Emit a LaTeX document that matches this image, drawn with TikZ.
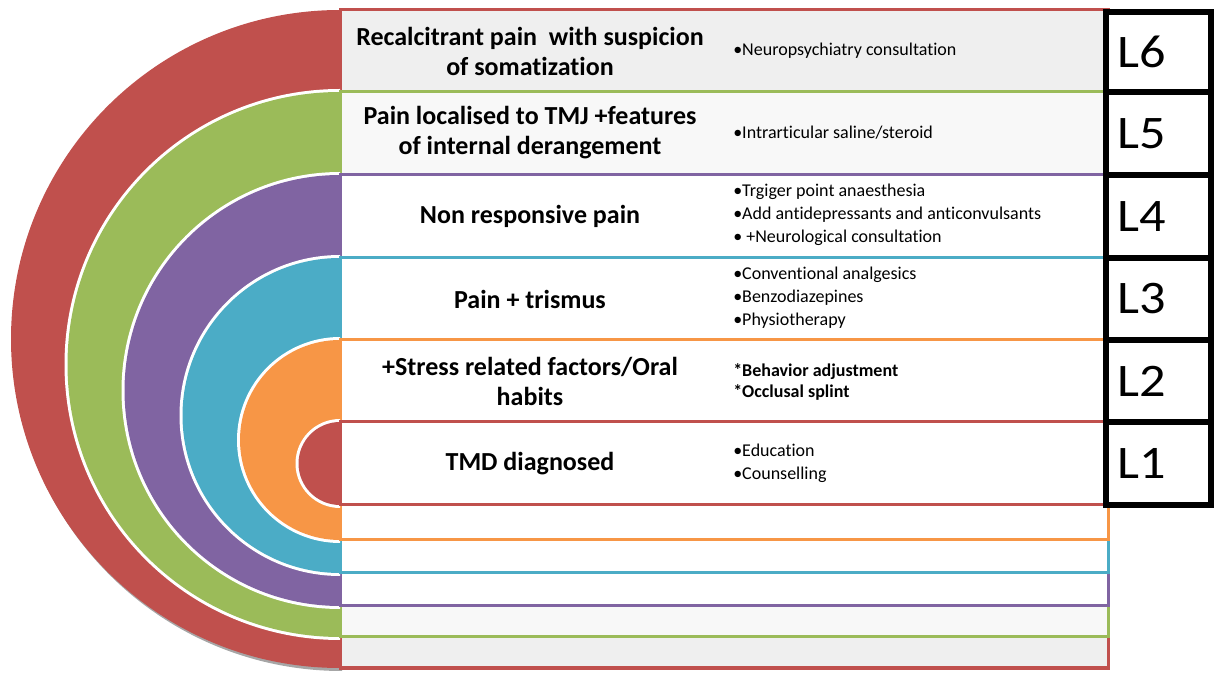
\documentclass[tikz,border=0pt]{standalone}
\usepackage{fontspec}
\setmainfont{Carlito}[Ligatures=NoCommon]
\newfontfamily\lvlfont{Carlito}[FakeStretch=1.12]
\definecolor{lred}{HTML}{C0504D}
\definecolor{lgreen}{HTML}{9BBB59}
\definecolor{lpurple}{HTML}{8064A2}
\definecolor{lblue}{HTML}{4BACC6}
\definecolor{lorange}{HTML}{F79646}
\definecolor{band6}{HTML}{EFEFEF}
\definecolor{band5}{HTML}{F8F8F8}
\tikzset{
  cond/.style={font=\bfseries\fontsize{19.5}{22.5}\selectfont, align=center},
  treat/.style={font=\fontsize{13.5}{17.25}\selectfont, align=left, anchor=west, inner sep=0pt},
  lvl/.style={font=\lvlfont\fontsize{35}{40}\selectfont, anchor=west, inner sep=0pt},
  lbox/.style={draw=black, line width=4.5pt, fill=white}
}

\begin{document}
\begin{tikzpicture}[x=0.75pt, y=-0.75pt]
  \useasboundingbox (0,0) rectangle (1215,673);
  % outer level with its shadow
  \fill[black!35] (342,671) arc[start angle=90, end angle=270, radius=329] -- cycle;
  \fill[lred] (340,668) arc[start angle=90, end angle=270, radius=329] -- cycle;
  \draw[lred, fill=band6, line width=2.25pt] (340,10) rectangle (1108,668);
  % inner levels
  \foreach \t/\b/\c/\f in {92/637/lgreen/band5, 175/606/lpurple/white, 258/573/lblue/white, 340/540/lorange/white, 422/505/lred/white}{
    \pgfmathsetmacro{\r}{(\b-\t)/2}
    \pgfmathsetmacro{\rr}{\r+3}
    \fill[white] (340,\b+3) arc[start angle=90, end angle=270, radius=\rr] -- cycle;
    \fill[\c] (340,\b) arc[start angle=90, end angle=270, radius=\r] -- cycle;
    \draw[\c, fill=\f, line width=2.25pt] (340,\t) rectangle (1108,\b);
  }
  % level boxes
  \foreach \t/\b/\n in {12/92/6, 92/175/5, 175/258/4, 258/340/3, 340/422/2, 422/505/1}{
    \draw[lbox] (1106,\t) rectangle (1211,\b);
    \node[lvl] (L\n) at (1117,{(\t+\b)/2}) {L\n};
  }
  % conditions and treatments
  \node[cond] (c6) at (530,51) {Recalcitrant pain\ \ with suspicion\\of somatization};
  \node[treat] (t6) at (733,51) {•Neuropsychiatry consultation};
  \node[cond] (c5) at (530,133) {Pain localised to TMJ +features\\of internal derangement};
  \node[treat] (t5) at (733,133) {•Intrarticular saline/steroid};
  \node[cond] (c4) at (530,216) {Non responsive pain};
  \node[treat] (t4) at (733,215) {•Trgiger point anaesthesia\\•Add antidepressants and anticonvulsants\\• +Neurological consultation};
  \node[cond] (c3) at (530,299) {Pain + trismus};
  \node[treat] (t3) at (733,298) {•Conventional analgesics\\•Benzodiazepines\\•Physiotherapy};
  \node[cond] (c2) at (530,381) {+Stress related factors/Oral\\habits};
  \node[treat, font=\bfseries\fontsize{13.5}{16}\selectfont] (t2) at (733,382) {*Behavior adjustment\\*Occlusal splint};
  \node[cond] (c1) at (530,464) {TMD diagnosed};
  \node[treat] (t1) at (733,463) {•Education\\•Counselling};
\end{tikzpicture}
\end{document}
